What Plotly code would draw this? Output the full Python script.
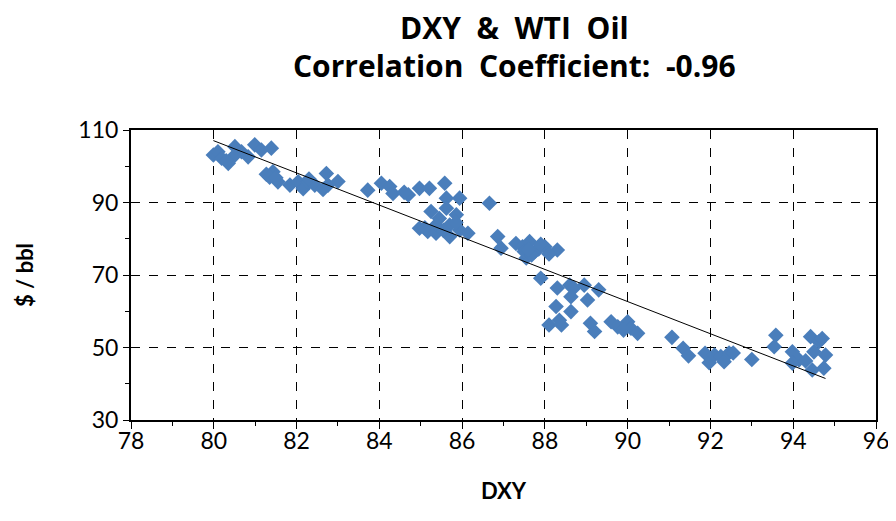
import numpy as np
import plotly.graph_objects as go

# DXY index values
dxy = [
    79.99, 80.10, 80.19, 80.35, 80.47, 80.51, 80.67, 80.83, 80.99, 81.15, 81.39, 81.43, 81.27,
    81.35, 81.55, 81.50, 81.84, 82.04, 82.16, 82.28, 82.44, 82.72, 82.64, 82.76, 83.00, 82.30, 80.30,
    83.72, 84.05, 84.25, 84.33, 84.70, 84.60, 84.97, 85.21, 85.58, 85.62, 85.94, 85.62, 85.25,
    85.45, 85.86, 85.70, 86.66, 84.97, 85.17, 85.37, 85.70, 85.94, 86.14, 85.37, 85.55, 85.85, 85.10,
    86.86, 86.94, 87.30, 87.46, 87.63, 87.55, 87.75, 88.00, 88.30, 87.50, 87.85, 87.68, 88.10,
    87.90, 87.60, 87.90,
    88.30, 88.60, 88.70, 88.95, 89.30, 88.63, 89.03, 88.27, 88.63, 88.10, 88.40, 88.35, 89.10,
    89.20, 89.60, 89.76, 90.00, 90.08, 90.24, 89.90,
    91.07, 91.34, 91.47, 91.87, 91.97, 92.10, 92.25, 92.33, 92.45, 92.55, 93.00, 93.58, 93.54,
    93.98, 94.14, 93.98, 94.42, 94.62, 94.50, 94.78, 94.46, 94.74, 94.70, 94.30,
]

# WTI oil price, $ / bbl
wti = [
    103.1, 104.0, 102.2, 100.8, 102.6, 105.4, 104.0, 102.6, 105.9, 104.5, 105.0, 98.5, 97.8,
    97.0, 95.7, 96.8, 94.8, 95.7, 93.8, 95.7, 94.8, 98.0, 93.6, 94.8, 95.8, 96.5, 101.5,
    93.4, 95.3, 94.4, 92.5, 92.1, 92.8, 93.9, 93.9, 95.3, 91.2, 91.2, 88.4, 87.5,
    85.6, 86.6, 83.8, 89.8, 82.9, 82.0, 81.5, 80.6, 82.4, 81.5, 83.8, 82.3, 84.5, 83.0,
    80.6, 77.4, 78.7, 77.8, 79.2, 74.7, 76.4, 77.8, 76.9, 76.5, 77.2, 75.5, 75.8,
    78.5, 77.0, 69.1,
    66.4, 67.2, 66.4, 67.2, 65.9, 64.0, 63.1, 61.3, 59.9, 56.2, 56.2, 57.5, 56.7,
    54.4, 57.1, 55.7, 57.1, 55.3, 53.9, 54.8,
    52.8, 49.8, 47.7, 48.4, 45.8, 47.9, 47.5, 46.1, 48.5, 48.5, 46.7, 53.4, 50.2,
    48.8, 46.6, 45.7, 53.0, 51.6, 48.8, 47.9, 43.8, 44.3, 52.5, 46.3,
]

x_ticks = [78, 80, 82, 84, 86, 88, 90, 92, 94, 96]
y_ticks = [30, 50, 70, 90, 110]

title_line1 = "DXY  &  WTI  Oil"
title_line2 = "Correlation  Coefficient:  -0.96"

# linear trend line (least squares) across the data range
slope, intercept = np.polyfit(dxy, wti, 1)
tx = np.array([min(dxy), max(dxy)])
ty = slope * tx + intercept

FONT = "Lato, 'Open Sans', sans-serif"
TITLE_FONT = "'Open Sans', Lato, sans-serif"

fig = go.Figure()
fig.add_trace(go.Scatter(
    x=dxy, y=wti, mode="markers",
    marker=dict(symbol="diamond", size=12, color="#4A7EBB", line=dict(width=0)),
    showlegend=False, hoverinfo="x+y",
))
fig.add_trace(go.Scatter(
    x=tx, y=ty, mode="lines",
    line=dict(color="black", width=1),
    showlegend=False, hoverinfo="skip",
))

# page body has an 8px default margin, so the figure is sized to fit the 896x521 window
fig.update_layout(
    width=888, height=513,
    margin=dict(l=123, r=20, t=122, b=101, autoexpand=False),
    paper_bgcolor="white", plot_bgcolor="white",
    font=dict(family=FONT, color="black", size=22),
    annotations=[
        dict(text=f"<b>{title_line1}</b>", xref="paper", yref="paper", x=0.515, y=1.355,
             xanchor="center", yanchor="middle", showarrow=False,
             font=dict(size=30, family=TITLE_FONT)),
        dict(text=f"<b>{title_line2}</b>", xref="paper", yref="paper", x=0.515, y=1.224,
             xanchor="center", yanchor="middle", showarrow=False,
             font=dict(size=30, family=TITLE_FONT)),
    ],
)

fig.update_xaxes(
    range=[78, 96], tickvals=x_ticks, ticktext=[str(v) for v in x_ticks],
    showline=True, mirror=True, linecolor="black", linewidth=2,
    ticks="outside", ticklen=7, tickwidth=1, tickcolor="black",
    showgrid=True, gridcolor="black", gridwidth=1, griddash="dash",
    minor=dict(dtick=1, tick0=78, ticks="outside", ticklen=4, tickcolor="black", showgrid=False),
    zeroline=False, tickfont=dict(size=23), automargin=False, ticklabelstandoff=-8,
    title=dict(text="<b>DXY</b>", font=dict(size=22), standoff=31),
)
fig.update_yaxes(
    range=[30, 110], tickvals=y_ticks, ticktext=[str(v) for v in y_ticks],
    showline=True, mirror=True, linecolor="black", linewidth=2,
    ticks="outside", ticklen=6, tickwidth=1, tickcolor="black",
    showgrid=True, gridcolor="black", gridwidth=1, griddash="dash",
    minor=dict(dtick=10, tick0=30, ticks="outside", ticklen=4, tickcolor="black", showgrid=False),
    zeroline=False, tickfont=dict(size=23), automargin=False,
    title=dict(text="<b>$ / bbl</b>", font=dict(size=22), standoff=39),
)

fig.write_html("out.html")
